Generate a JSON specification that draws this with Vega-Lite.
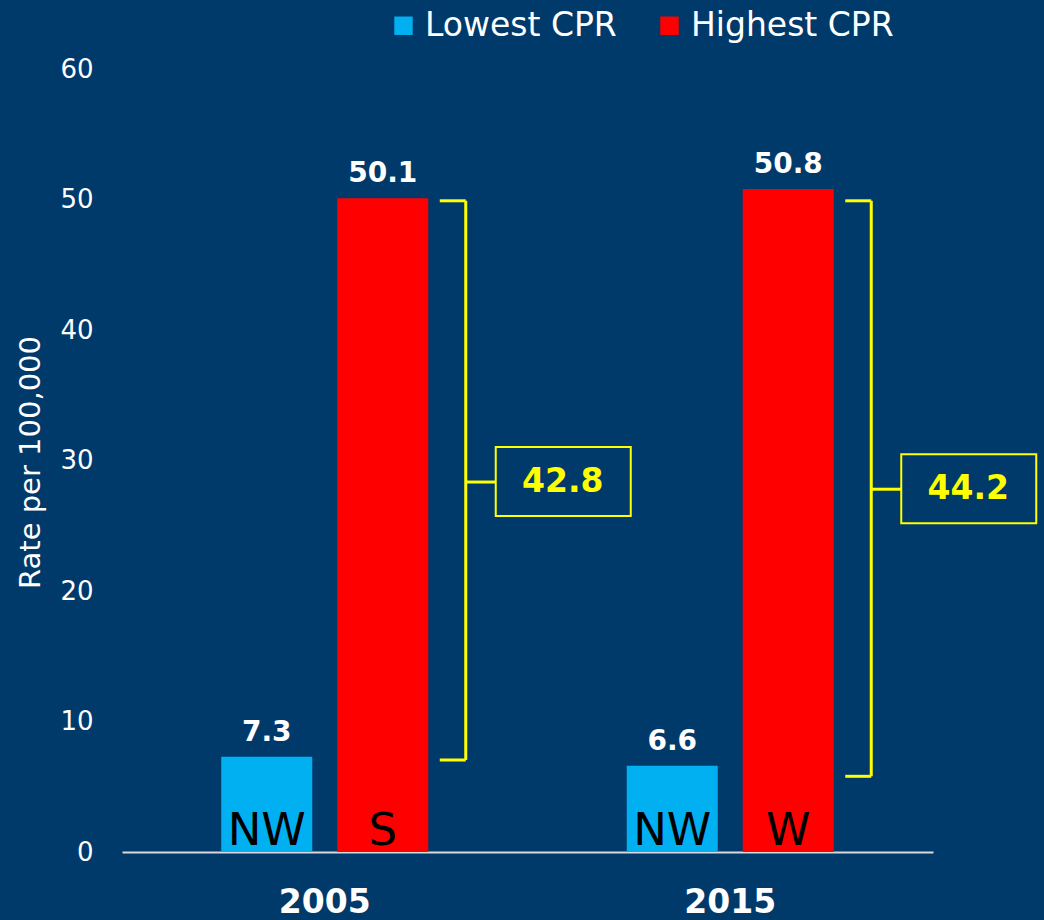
{
  "$schema": "https://vega.github.io/schema/vega-lite/v6.json",
  "width": 811,
  "height": 783,
  "autosize": {"type": "none"},
  "padding": {"left": 122, "top": 69, "right": 111, "bottom": 68},
  "background": "#003A6B",
  "config": {
    "view": {"stroke": null},
    "font": "DejaVu Sans",
    "axis": {"grid": false, "ticks": false}
  },
  "datasets": {
    "bars": [
      {"year": "2005", "series": "Lowest CPR", "value": 7.3, "region": "NW"},
      {"year": "2005", "series": "Highest CPR", "value": 50.1, "region": "S"},
      {"year": "2015", "series": "Lowest CPR", "value": 6.6, "region": "NW"},
      {"year": "2015", "series": "Highest CPR", "value": 50.8, "region": "W"}
    ],
    "brackets": [
      {"year": "2005", "top": 49.9, "bottom": 7.05, "mid": 28.35, "gap": "42.8"},
      {"year": "2015", "top": 49.9, "bottom": 5.8, "mid": 27.8, "gap": "44.2"}
    ]
  },
  "layer": [
    {
      "data": {"name": "bars"},
      "mark": {"type": "bar"},
      "encoding": {
        "x": {
          "field": "year", "type": "nominal",
          "scale": {"paddingInner": 0, "paddingOuter": 0},
          "axis": {
            "title": null, "labelAngle": 0, "labelColor": "white",
            "labelFont": "DejaVu Sans", "labelFontSize": 33, "labelFontWeight": "bold",
            "labelPadding": 34, "domainColor": "#D9D9D9", "domainWidth": 2
          }
        },
        "xOffset": {
          "field": "series", "type": "nominal",
          "sort": ["Lowest CPR", "Highest CPR"],
          "scale": {"paddingInner": 0.2155, "paddingOuter": 0.8556}
        },
        "y": {
          "field": "value", "type": "quantitative",
          "scale": {"domain": [0, 60]},
          "axis": {
            "values": [0, 10, 20, 30, 40, 50, 60],
            "domain": false, "labelColor": "white", "labelFontSize": 26,
            "labelPadding": 29,
            "title": "Rate per 100,000", "titleColor": "white", "titleFontSize": 29,
            "titleFontWeight": "normal", "titleX": -92, "titleY": 393,
            "titleAngle": -90, "titleAlign": "center", "titleBaseline": "middle"
          }
        },
        "color": {
          "field": "series", "type": "nominal",
          "scale": {"domain": ["Lowest CPR", "Highest CPR"], "range": ["#00B0F0", "#FF0000"]},
          "legend": {
            "title": null, "orient": "none", "direction": "horizontal",
            "legendX": 265, "legendY": -60,
            "symbolType": "square", "symbolSize": 340, "symbolStrokeWidth": 0,
            "labelColor": "white", "labelFontSize": 33, "labelOffset": 5,
            "columnPadding": 36, "labelLimit": 400
          }
        }
      }
    },
    {
      "data": {"name": "bars"},
      "mark": {"type": "text", "baseline": "alphabetic", "dy": -16, "fontSize": 28, "fontWeight": "bold", "color": "white"},
      "encoding": {
        "x": {"field": "year", "type": "nominal"},
        "xOffset": {"field": "series", "type": "nominal", "sort": ["Lowest CPR", "Highest CPR"]},
        "y": {"field": "value", "type": "quantitative"},
        "text": {"field": "value", "type": "quantitative", "format": ".1f"}
      }
    },
    {
      "data": {"name": "bars"},
      "mark": {"type": "text", "baseline": "alphabetic", "dy": -7, "fontSize": 45, "color": "black"},
      "encoding": {
        "x": {"field": "year", "type": "nominal"},
        "xOffset": {"field": "series", "type": "nominal", "sort": ["Lowest CPR", "Highest CPR"]},
        "y": {"datum": 0, "type": "quantitative"},
        "text": {"field": "region"}
      }
    },
    {
      "data": {"name": "brackets"},
      "mark": {"type": "rule", "color": "#FFFF00", "strokeWidth": 3, "xOffset": 141},
      "encoding": {
        "x": {"field": "year", "type": "nominal", "bandPosition": 0.5},
        "y": {"field": "top", "type": "quantitative"},
        "y2": {"field": "bottom"}
      }
    },
    {
      "data": {"name": "brackets"},
      "mark": {"type": "rule", "color": "#FFFF00", "strokeWidth": 3, "xOffset": 115, "x2Offset": 141},
      "encoding": {
        "x": {"field": "year", "type": "nominal", "bandPosition": 0.5},
        "x2": {"field": "year", "bandPosition": 0.5},
        "y": {"field": "top", "type": "quantitative"}
      }
    },
    {
      "data": {"name": "brackets"},
      "mark": {"type": "rule", "color": "#FFFF00", "strokeWidth": 3, "xOffset": 115, "x2Offset": 141},
      "encoding": {
        "x": {"field": "year", "type": "nominal", "bandPosition": 0.5},
        "x2": {"field": "year", "bandPosition": 0.5},
        "y": {"field": "bottom", "type": "quantitative"}
      }
    },
    {
      "data": {"name": "brackets"},
      "mark": {"type": "rule", "color": "#FFFF00", "strokeWidth": 3, "xOffset": 141, "x2Offset": 171},
      "encoding": {
        "x": {"field": "year", "type": "nominal", "bandPosition": 0.5},
        "x2": {"field": "year", "bandPosition": 0.5},
        "y": {"field": "mid", "type": "quantitative"}
      }
    },
    {
      "data": {"name": "brackets"},
      "mark": {"type": "rect", "fill": null, "stroke": "#FFFF00", "strokeWidth": 2, "xOffset": 171, "x2Offset": 306, "yOffset": -35, "y2Offset": 34},
      "encoding": {
        "x": {"field": "year", "type": "nominal", "bandPosition": 0.5},
        "x2": {"field": "year", "bandPosition": 0.5},
        "y": {"field": "mid", "type": "quantitative"},
        "y2": {"field": "mid"}
      }
    },
    {
      "data": {"name": "brackets"},
      "mark": {"type": "text", "color": "#FFFF00", "fontSize": 33, "fontWeight": "bold", "baseline": "middle", "align": "center", "xOffset": 238},
      "encoding": {
        "x": {"field": "year", "type": "nominal", "bandPosition": 0.5},
        "y": {"field": "mid", "type": "quantitative"},
        "text": {"field": "gap"}
      }
    }
  ]
}
